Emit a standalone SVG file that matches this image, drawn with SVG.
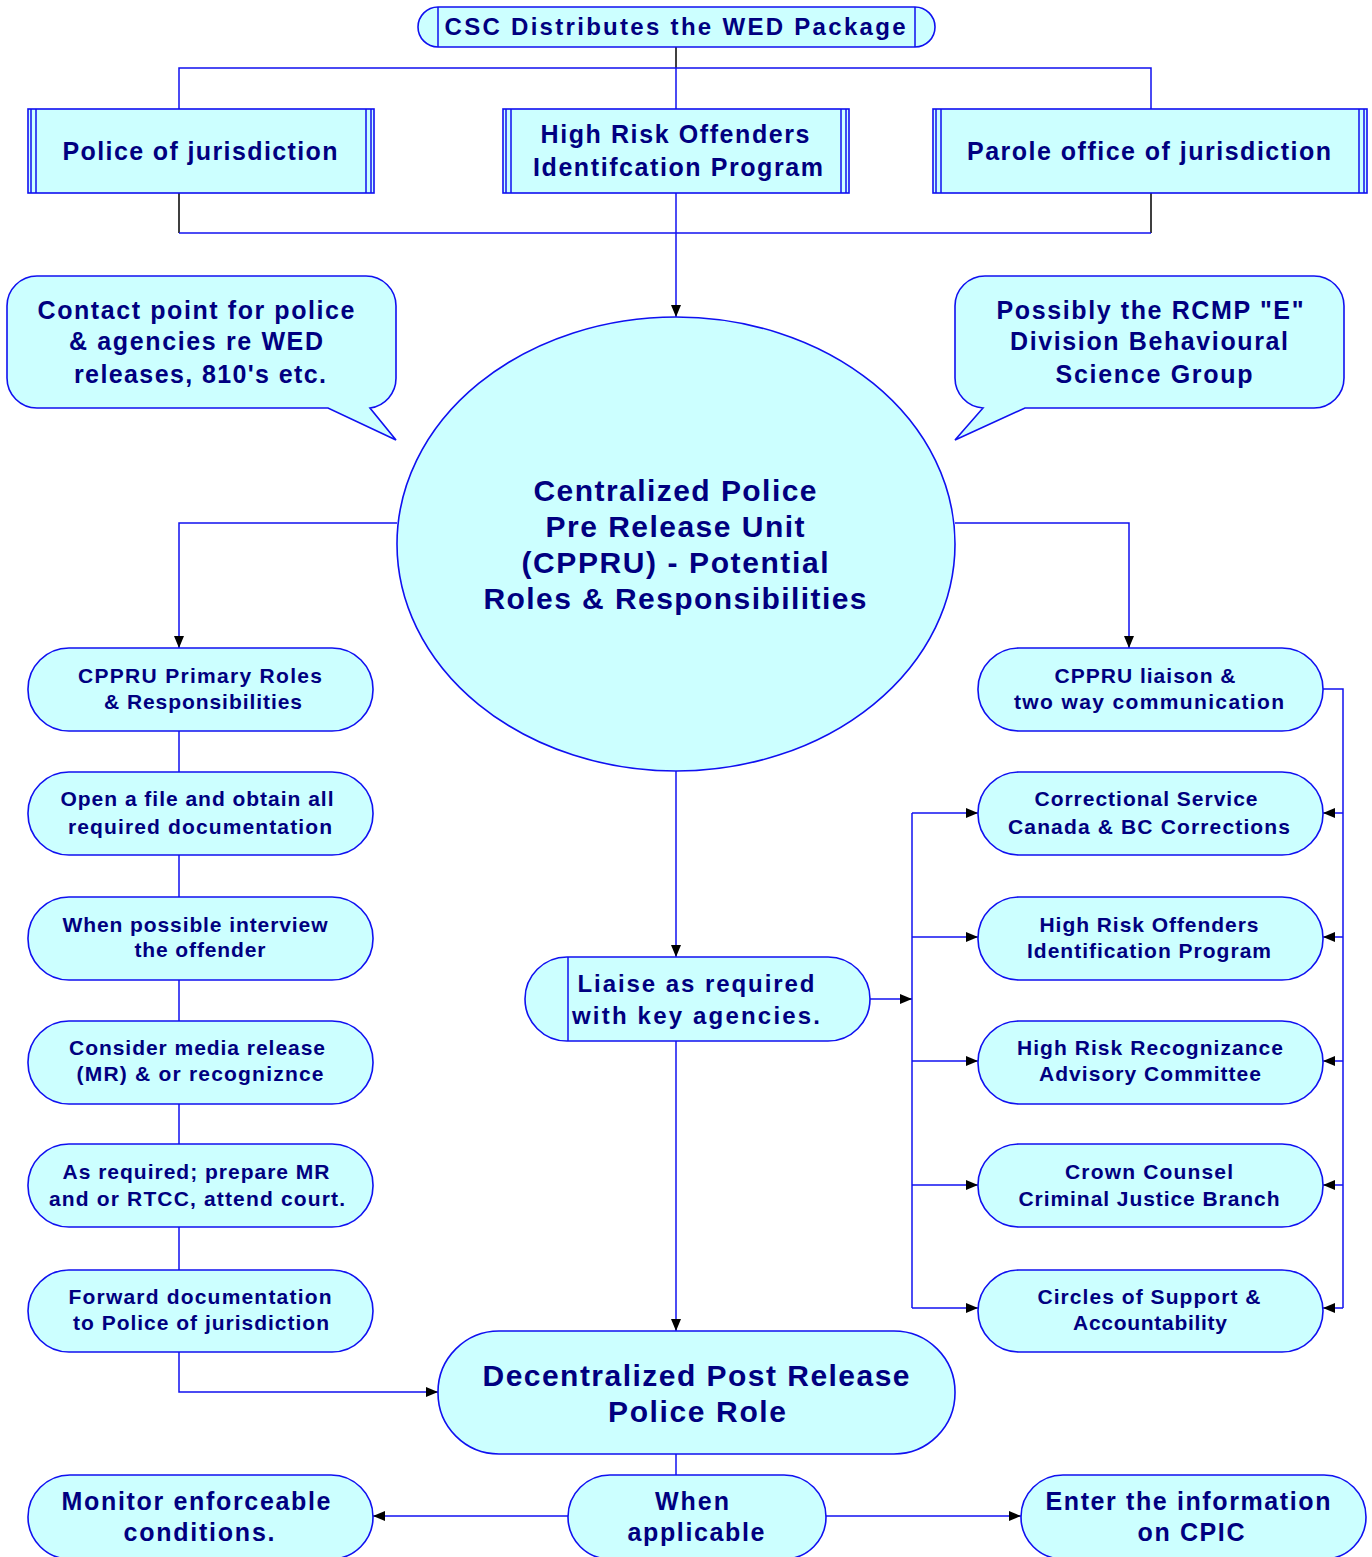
<svg xmlns="http://www.w3.org/2000/svg" width="1372" height="1557" viewBox="0 0 1372 1557">
<style>
.n{fill:#CCFFFF;stroke:#1010F0;stroke-width:1.6}
.l{stroke:#1010F0;stroke-width:1.5;fill:none}
.k{stroke:#000;stroke-width:1.5;fill:none}
text{font-family:"Liberation Sans",Arial,sans-serif;font-weight:bold;fill:#000080;text-anchor:middle}
.f21{font-size:21px}.f24{font-size:24px}.f25{font-size:25px}.f30{font-size:30px}
</style>
<defs>
<marker id="a" markerWidth="13" markerHeight="11" refX="12" refY="5" orient="auto" markerUnits="userSpaceOnUse">
<path d="M0,0 L12,5 L0,10 z" fill="#000"/>
</marker>
</defs>
<rect width="1372" height="1557" fill="#fff"/>
<g id="connectors">
<path class="k" d="M676,47 V68"/>
<path class="l" d="M179,109 V68 H1151 V109 M676,68 V109"/>
<path class="k" d="M179,193 V233 M1151,193 V233"/>
<path class="l" d="M179,233 H1151"/>
<path class="l" d="M676,193 V317" marker-end="url(#a)"/>
<path class="l" d="M397,523 H179 V648" marker-end="url(#a)"/>
<path class="l" d="M955,523 H1129 V648" marker-end="url(#a)"/>
<path class="l" d="M179,731 V772 M179,855 V897 M179,980 V1021 M179,1104 V1144 M179,1227 V1270"/>
<path class="l" d="M179,1352 V1392 H438" marker-end="url(#a)"/>
<path class="l" d="M676,771 V957" marker-end="url(#a)"/>
<path class="l" d="M676,1041 V1331" marker-end="url(#a)"/>
<path class="l" d="M870,999 H912" marker-end="url(#a)"/>
<path class="l" d="M912,813 V1308"/>
<path class="l" d="M912,813 H978" marker-end="url(#a)"/>
<path class="l" d="M912,937 H978" marker-end="url(#a)"/>
<path class="l" d="M912,1061 H978" marker-end="url(#a)"/>
<path class="l" d="M912,1185 H978" marker-end="url(#a)"/>
<path class="l" d="M912,1308 H978" marker-end="url(#a)"/>
<path class="l" d="M1323,689 H1343 V1308"/>
<path class="l" d="M1343,813 H1323" marker-end="url(#a)"/>
<path class="l" d="M1343,937 H1323" marker-end="url(#a)"/>
<path class="l" d="M1343,1061 H1323" marker-end="url(#a)"/>
<path class="l" d="M1343,1185 H1323" marker-end="url(#a)"/>
<path class="l" d="M1343,1308 H1323" marker-end="url(#a)"/>
<path class="l" d="M676,1454 V1475"/>
<path class="l" d="M568,1516 H373" marker-end="url(#a)"/>
<path class="l" d="M826,1516 H1021" marker-end="url(#a)"/>
</g>
<g id="csc">
<rect class="n" x="418" y="7" width="517" height="40" rx="20"/>
<path class="l" d="M438,7 V47 M915,7 V47"/>
<text class="f24" x="675" y="35" textLength="461" lengthAdjust="spacing">CSC Distributes the WED Package</text>
</g>
<g id="police">
<rect class="n" x="28" y="109" width="346" height="84"/>
<path class="l" d="M31,109 V193 M36,109 V193 M366,109 V193 M371,109 V193"/>
<text class="f25" x="200" y="160" textLength="275" lengthAdjust="spacing">Police of jurisdiction</text>
</g>
<g id="hro">
<rect class="n" x="503" y="109" width="346" height="84"/>
<path class="l" d="M506,109 V193 M511,109 V193 M841,109 V193 M846,109 V193"/>
<text class="f25" x="675" y="143" textLength="269" lengthAdjust="spacing">High Risk Offenders</text>
<text class="f25" x="678" y="176" textLength="290" lengthAdjust="spacing">Identifcation Program</text>
</g>
<g id="parole">
<rect class="n" x="933" y="109" width="434" height="84"/>
<path class="l" d="M936,109 V193 M941,109 V193 M1359,109 V193 M1364,109 V193"/>
<text class="f25" x="1149" y="160" textLength="364" lengthAdjust="spacing">Parole office of jurisdiction</text>
</g>
<g id="callout-left">
<path class="n" d="M37,276 H366 A30,30 0 0 1 396,306 V378 A30,30 0 0 1 370,408 L396,440 L328,408 H37 A30,30 0 0 1 7,378 V306 A30,30 0 0 1 37,276 Z"/>
<text class="f25" x="196" y="319" textLength="317" lengthAdjust="spacing">Contact point for police</text>
<text class="f25" x="196" y="350" textLength="254" lengthAdjust="spacing">&amp; agencies re WED</text>
<text class="f25" x="200" y="383" textLength="252" lengthAdjust="spacing">releases, 810's etc.</text>
</g>
<g id="callout-right">
<path class="n" d="M985,276 H1314 A30,30 0 0 1 1344,306 V378 A30,30 0 0 1 1314,408 H1025 L955,440 L983,408 A30,30 0 0 1 955,378 V306 A30,30 0 0 1 985,276 Z"/>
<text class="f25" x="1150" y="319" textLength="307" lengthAdjust="spacing">Possibly the RCMP "E"</text>
<text class="f25" x="1149" y="350" textLength="278" lengthAdjust="spacing">Division Behavioural</text>
<text class="f25" x="1154" y="383" textLength="197" lengthAdjust="spacing">Science Group</text>
</g>
<g id="cppru">
<ellipse class="n" cx="676" cy="544" rx="279" ry="227"/>
<text class="f30" x="675" y="501" textLength="283" lengthAdjust="spacing">Centralized Police</text>
<text class="f30" x="675" y="537" textLength="259" lengthAdjust="spacing">Pre Release Unit</text>
<text class="f30" x="675" y="573" textLength="307" lengthAdjust="spacing">(CPPRU) - Potential</text>
<text class="f30" x="675" y="609" textLength="383" lengthAdjust="spacing">Roles &amp; Responsibilities</text>
</g>
<g id="primary">
<rect class="n" x="28" y="648" width="345" height="83" rx="41"/>
<text class="f21" x="200" y="683" textLength="244" lengthAdjust="spacing">CPPRU Primary Roles</text>
<text class="f21" x="203" y="709" textLength="198" lengthAdjust="spacing">&amp; Responsibilities</text>
</g>
<g id="openfile">
<rect class="n" x="28" y="772" width="345" height="83" rx="41"/>
<text class="f21" x="197" y="806" textLength="273" lengthAdjust="spacing">Open a file and obtain all</text>
<text class="f21" x="200" y="834" textLength="264" lengthAdjust="spacing">required documentation</text>
</g>
<g id="interview">
<rect class="n" x="28" y="897" width="345" height="83" rx="41"/>
<text class="f21" x="195" y="932" textLength="265" lengthAdjust="spacing">When possible interview</text>
<text class="f21" x="200" y="957" textLength="131" lengthAdjust="spacing">the offender</text>
</g>
<g id="media">
<rect class="n" x="28" y="1021" width="345" height="83" rx="41"/>
<text class="f21" x="197" y="1055" textLength="256" lengthAdjust="spacing">Consider media release</text>
<text class="f21" x="200" y="1081" textLength="247" lengthAdjust="spacing">(MR) &amp; or recogniznce</text>
</g>
<g id="prepare">
<rect class="n" x="28" y="1144" width="345" height="83" rx="41"/>
<text class="f21" x="196" y="1179" textLength="267" lengthAdjust="spacing">As required; prepare MR</text>
<text class="f21" x="197" y="1206" textLength="296" lengthAdjust="spacing">and or RTCC, attend court.</text>
</g>
<g id="forward">
<rect class="n" x="28" y="1270" width="345" height="82" rx="41"/>
<text class="f21" x="200" y="1304" textLength="263" lengthAdjust="spacing">Forward documentation</text>
<text class="f21" x="201" y="1330" textLength="256" lengthAdjust="spacing">to Police of jurisdiction</text>
</g>
<g id="liaison">
<rect class="n" x="978" y="648" width="345" height="83" rx="41"/>
<text class="f21" x="1145" y="683" textLength="181" lengthAdjust="spacing">CPPRU liaison &amp;</text>
<text class="f21" x="1149" y="709" textLength="270" lengthAdjust="spacing">two way communication</text>
</g>
<g id="csc-bc">
<rect class="n" x="978" y="772" width="345" height="83" rx="41"/>
<text class="f21" x="1146" y="806" textLength="223" lengthAdjust="spacing">Correctional Service</text>
<text class="f21" x="1149" y="834" textLength="282" lengthAdjust="spacing">Canada &amp; BC Corrections</text>
</g>
<g id="hroip">
<rect class="n" x="978" y="897" width="345" height="83" rx="41"/>
<text class="f21" x="1149" y="932" textLength="219" lengthAdjust="spacing">High Risk Offenders</text>
<text class="f21" x="1149" y="958" textLength="244" lengthAdjust="spacing">Identification Program</text>
</g>
<g id="hrrac">
<rect class="n" x="978" y="1021" width="345" height="83" rx="41"/>
<text class="f21" x="1150" y="1055" textLength="266" lengthAdjust="spacing">High Risk Recognizance</text>
<text class="f21" x="1150" y="1081" textLength="222" lengthAdjust="spacing">Advisory Committee</text>
</g>
<g id="crown">
<rect class="n" x="978" y="1144" width="345" height="83" rx="41"/>
<text class="f21" x="1149" y="1179" textLength="168" lengthAdjust="spacing">Crown Counsel</text>
<text class="f21" x="1149" y="1206" textLength="261" lengthAdjust="spacing">Criminal Justice Branch</text>
</g>
<g id="circles">
<rect class="n" x="978" y="1270" width="345" height="82" rx="41"/>
<text class="f21" x="1149" y="1304" textLength="223" lengthAdjust="spacing">Circles of Support &amp;</text>
<text class="f21" x="1150" y="1330" textLength="154" lengthAdjust="spacing">Accountability</text>
</g>
<g id="liaise">
<rect class="n" x="525" y="957" width="345" height="84" rx="42"/>
<path class="l" d="M568,957 V1041"/>
<text class="f24" x="696" y="992" textLength="237" lengthAdjust="spacing">Liaise as required</text>
<text class="f24" x="696" y="1024" textLength="248" lengthAdjust="spacing">with key agencies.</text>
</g>
<g id="decentralized">
<rect class="n" x="438" y="1331" width="517" height="123" rx="61"/>
<text class="f30" x="696" y="1386" textLength="427" lengthAdjust="spacing">Decentralized Post Release</text>
<text class="f30" x="697" y="1422" textLength="178" lengthAdjust="spacing">Police Role</text>
</g>
<g id="when">
<rect class="n" x="568" y="1475" width="258" height="84" rx="42"/>
<text class="f25" x="692" y="1510" textLength="74" lengthAdjust="spacing">When</text>
<text class="f25" x="696" y="1541" textLength="137" lengthAdjust="spacing">applicable</text>
</g>
<g id="monitor">
<rect class="n" x="28" y="1475" width="345" height="84" rx="42"/>
<text class="f25" x="196" y="1510" textLength="269" lengthAdjust="spacing">Monitor enforceable</text>
<text class="f25" x="199" y="1541" textLength="151" lengthAdjust="spacing">conditions.</text>
</g>
<g id="cpic">
<rect class="n" x="1021" y="1475" width="345" height="84" rx="42"/>
<text class="f25" x="1188" y="1510" textLength="285" lengthAdjust="spacing">Enter the information</text>
<text class="f25" x="1191" y="1541" textLength="107" lengthAdjust="spacing">on CPIC</text>
</g>
</svg>
